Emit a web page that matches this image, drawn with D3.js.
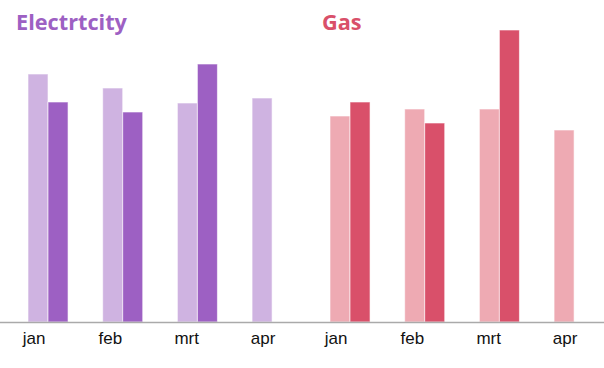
<html>
<head>
<script src="https://cdnjs.cloudflare.com/ajax/libs/d3/7.8.5/d3.min.js"></script>
<style>
	body { margin: 0; background: #fff; }
	.title { font-family: "Open Sans", sans-serif; font-weight: 700; font-size: 21.7px; }
	.axis text { font-family: "Liberation Sans", Arial, sans-serif; font-size: 17px; fill: #111; }
</style>
</head>
<body>
<div id="chart"></div>
<script>
// months shown under each chart
var months = ["jan", "feb", "mrt", "apr"];
var series = ["prev", "curr"];

// electricity, light = previous year, dark = this year
var elecPrev = [248, 234, 219, 224];
var elecCurr = [220, 210, 258, null];

// gas
var gasPrev = [206, 213, 213, 192];
var gasCurr = [220, 199, 292, null];

var width = 604, height = 368;
var half = 302;
var baseline = 322;

var svg = d3.select("#chart").append("svg")
	.attr("width", width)
	.attr("height", height);

var y = d3.scaleLinear().domain([0, 300]).range([baseline, baseline - 300]);

var x0 = d3.scaleBand().domain(months)
	.range([28, 28 + 264.1])
	.paddingInner(0.464)
	.paddingOuter(0);
var x1 = d3.scaleBand().domain(series).range([0, x0.bandwidth()]);

// labels sit on their own scale, a bit left of the bars
var xl = d3.scalePoint().domain(months).range([33.5, 262.5]);

function drawChart(offset, title, titleX, light, dark, prev, curr) {
	var g = svg.append("g").attr("transform", "translate(" + offset + ",0)");

	g.append("text")
		.attr("class", "title")
		.attr("x", titleX)
		.attr("y", 30)
		.attr("fill", dark)
		.text(title);

	var rows = months.map(function(m, i) {
		return { month: m, prev: prev[i], curr: curr[i] };
	});

	var groups = g.selectAll(".grp").data(rows).enter().append("g")
		.attr("class", "grp")
		.attr("transform", function(d) { return "translate(" + x0(d.month) + ",0)"; });

	groups.selectAll("rect")
		.data(function(d) {
			return series.map(function(s) { return { key: s, value: d[s] }; })
				.filter(function(v) { return v.value != null; });
		})
		.enter().append("rect")
		.attr("x", function(d) { return x1(d.key); })
		.attr("y", function(d) { return y(d.value); })
		.attr("width", x1.bandwidth())
		.attr("height", function(d) { return baseline - y(d.value); })
		.attr("fill", function(d) { return d.key == "prev" ? light : dark; })
		.attr("stroke", "#fff")
		.attr("stroke-opacity", 0.6)
		.attr("stroke-width", 1);

	g.append("g")
		.attr("class", "axis")
		.attr("transform", "translate(0," + baseline + ")")
		.call(d3.axisBottom(xl).tickSize(0).tickPadding(10))
		.call(function(a) { a.select(".domain").remove(); })
		.selectAll("text")
		.attr("font-family", null)
		.attr("font-size", null);
}

drawChart(0, "Electrtcity", 16, "#cfb3e1", "#9d60c3", elecPrev, elecCurr);
drawChart(half, "Gas", 20, "#eeaab3", "#d9506a", gasPrev, gasCurr);

// shared bottom line
svg.append("line")
	.attr("x1", 0).attr("x2", width)
	.attr("y1", baseline + 0.5).attr("y2", baseline + 0.5)
	.attr("stroke", "#aaa")
	.attr("stroke-width", 1.5);
</script>
</body>
</html>
